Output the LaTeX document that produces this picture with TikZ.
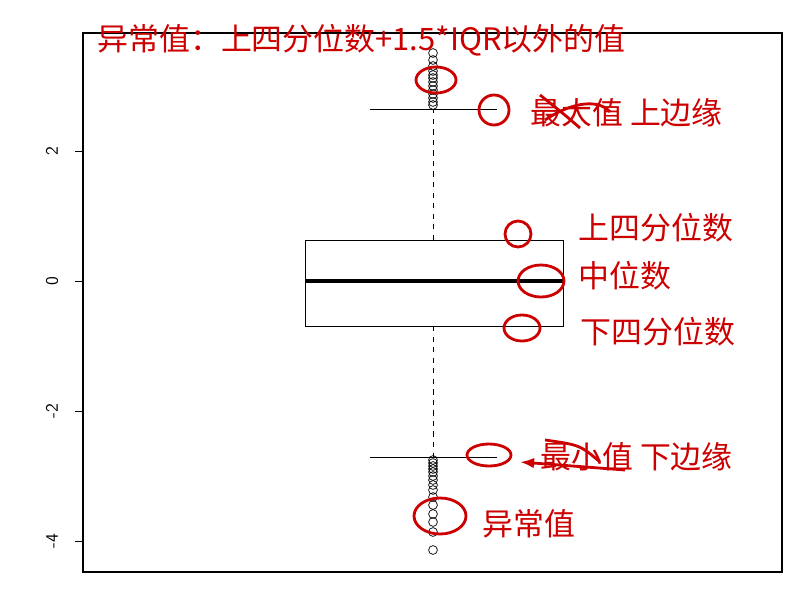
\documentclass[tikz,border=0pt]{standalone}
\usepackage{fontspec}
\newfontfamily\cjk{Noto Sans CJK SC}
\usetikzlibrary{arrows.meta}
\tikzset{
  redpen/.style={draw=red!80!black, line width=1.6pt},
  note/.style={text=red!80!black, font=\cjk\fontsize{17.6}{20}\selectfont, inner sep=0pt, anchor=west},
  outlier/.style={circle, draw, inner sep=0pt, minimum size=5pt, line width=0.4pt}
}
\begin{document}
\begin{tikzpicture}[x=0.02cm, y=-0.02cm]
    \useasboundingbox (0,0) rectangle (807,598);
    % Rahmen und Achse
    \draw[line width=0.6pt] (83,33) rectangle (782,572);
    \foreach \v/\yy in {2/151, 0/281, -2/411, -4/541} {
        \draw (83,\yy) -- (75,\yy);
        \node[rotate=90, font=\sffamily] (t\yy) at (52,\yy) {\v};
    }
    % Box
    \draw (305,240) rectangle (563,326);
    \draw[line width=1.8pt] (305,281) -- (563,281);
    \draw[dashed] (433,240) -- (433,109);
    \draw[dashed] (433,326) -- (433,457);
    \draw (370,109) -- (497,109);
    \draw (370,457) -- (497,457);
    % Ausreisser
    \foreach \yy in {53,60,66,71,75,78,82,86,90,94,98,102,105}
        \node[outlier] at (433,\yy) {};
    \foreach \yy in {460,463,466,469,472,476,480,485,490,497,505,514,522,532,550}
        \node[outlier] at (433,\yy) {};
    % Anmerkungen
    \node[note] (title) at (97,40) {异常值：上四分位数+1.5*IQR以外的值};
    \draw[redpen] (436,80) ellipse (20 and 13);
    \draw[redpen] (494,110) circle (15);
    \node[note] (max) at (530,113) {最大值 上边缘};
    \draw[redpen] (540,95) .. controls (565,115) .. (580,128);
    \draw[redpen] (545,120) .. controls (575,100) and (600,100) .. (610,112);
    \draw[redpen] (518,234) circle (13);
    \node[note] (q3) at (578,228) {上四分位数};
    \draw[redpen] (541,281) ellipse (23 and 16);
    \node[note] (med) at (578,276) {中位数};
    \draw[redpen] (522,328) ellipse (18 and 13);
    \node[note] (q1) at (580,332) {下四分位数};
    \draw[redpen] (489,455) ellipse (22 and 11);
    \node[note] (min) at (540,457) {最小值 下边缘};
    \draw[redpen] (545,440) .. controls (580,445) .. (600,462);
    \draw[redpen, -{Latex[length=8pt]}] (625,470) -- (520,462);
    \draw[redpen] (440,516) ellipse (26 and 18);
    \node[note] (out) at (482,524) {异常值};
\end{tikzpicture}
\end{document}
